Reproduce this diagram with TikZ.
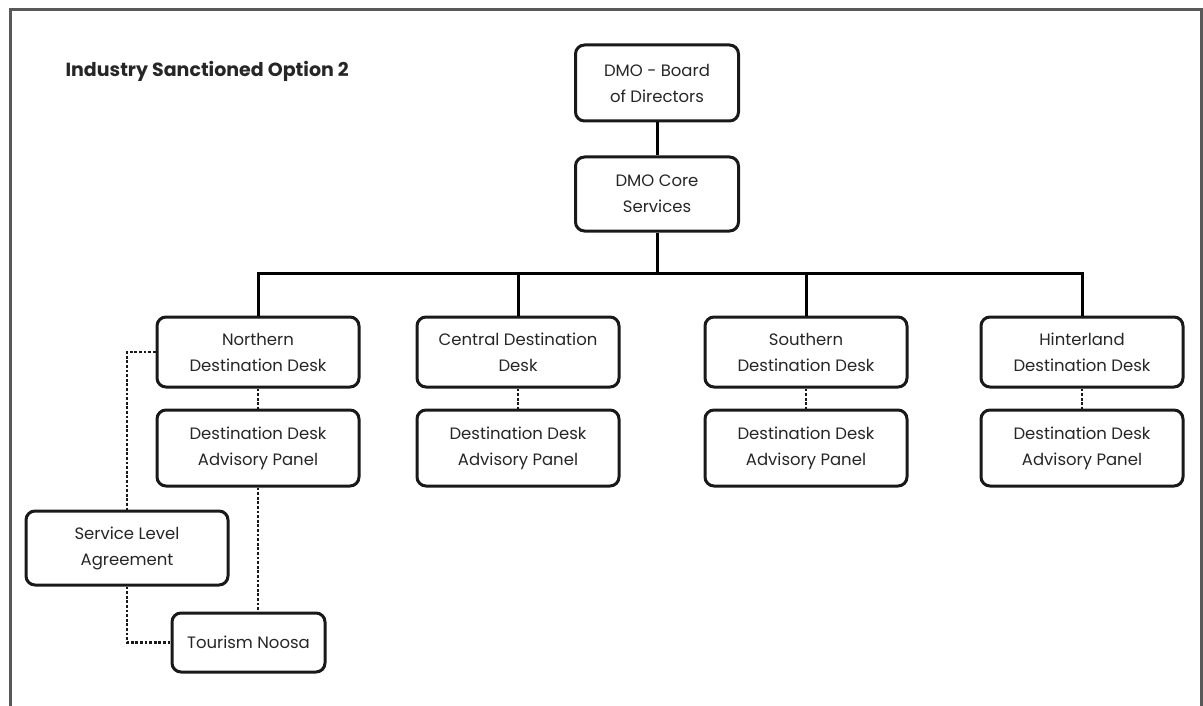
\documentclass[tikz,border=0pt]{standalone}
\usepackage{fontspec}
\setmainfont{Poppins}
\begin{document}
\begin{tikzpicture}[x=1pt,y=-1pt,
  box/.style={draw=black!90, line width=3pt, rounded corners=9pt, align=center,
    inner sep=0pt, font=\fontsize{16.5}{26}\selectfont, text=black!85},
  desk/.style={box, minimum width=202pt, minimum height=70pt},
  panel/.style={box, minimum width=202pt, minimum height=76pt},
  solidline/.style={line width=3pt, draw=black},
  dotline/.style={line width=2.8pt, draw=black!90, dash pattern=on 2.8pt off 1.8pt}
]
\useasboundingbox (0,0) rectangle (1203,706);
% frame
\draw[line width=3pt, draw=black!65] (10,706) -- (10,10) -- (1201,10) -- (1201,706);
% title
\node[anchor=west, font=\fontsize{19}{22}\selectfont\bfseries, text=black!85] (title) at (62,71) {Industry Sanctioned Option 2};
% top boxes
\node[box, minimum width=163pt, minimum height=76pt] (board) at (657,83) {DMO - Board\\of Directors};
\node[box, minimum width=163pt, minimum height=74pt] (core) at (657,194) {DMO Core\\Services};
% desks
\node[desk] (north) at (258,352) {Northern\\Destination Desk};
\node[desk] (central) at (518,352) {Central Destination\\Desk};
\node[desk] (south) at (806,352) {Southern\\Destination Desk};
\node[desk] (hinter) at (1082,352) {Hinterland\\Destination Desk};
% panels
\node[panel] (pnorth) at (258,448) {Destination Desk\\Advisory Panel};
\node[panel] (pcentral) at (518,448) {Destination Desk\\Advisory Panel};
\node[panel] (psouth) at (806,448) {Destination Desk\\Advisory Panel};
\node[panel] (phinter) at (1082,448) {Destination Desk\\Advisory Panel};
% others
\node[box, minimum width=202pt, minimum height=74pt] (sla) at (127,548) {Service Level\\Agreement};
\node[box, minimum width=153pt, minimum height=59pt] (noosa) at (248.5,642.5) {Tourism Noosa};
% solid connectors
\coordinate (bus) at (657,273);
\draw[solidline] (board.south) -- (core.north);
\draw[solidline] (core.south) -- (bus);
\draw[solidline] (north.north) |- (bus) -| (hinter.north);
\draw[solidline] (central.north) -- (central.north |- bus);
\draw[solidline] (south.north) -- (south.north |- bus);
% dotted connectors
\draw[dotline] (north.south) -- (pnorth.north);
\draw[dotline] (central.south) -- (pcentral.north);
\draw[dotline] (south.south) -- (psouth.north);
\draw[dotline] (hinter.south) -- (phinter.north);
\draw[dotline] (north.west) -| (sla.north);
\draw[dotline] (sla.south) |- (noosa.west);
\draw[dotline] (pnorth.south) -- (pnorth.south |- noosa.north);
\end{tikzpicture}
\end{document}
